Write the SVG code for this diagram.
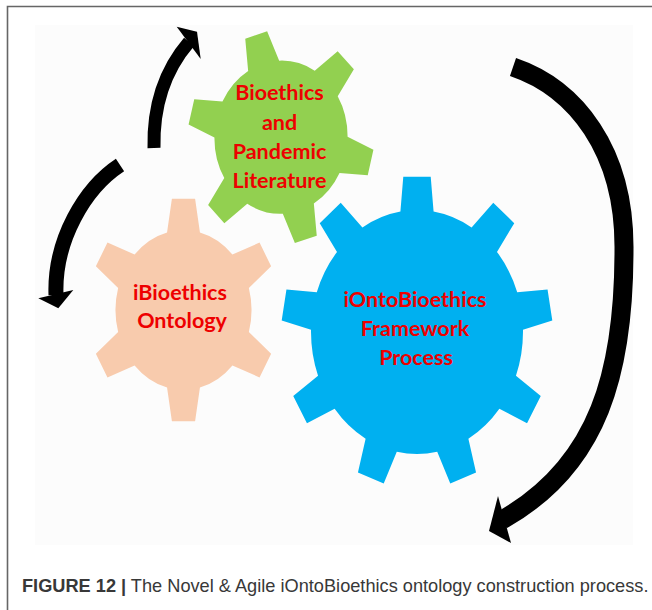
<svg xmlns="http://www.w3.org/2000/svg" xmlns:xlink="http://www.w3.org/1999/xlink" width="652" height="610" viewBox="0 0 652 610">
  <style>
    .frame { stroke:#666; stroke-width:1.6; fill:none; }
    .label { font-family: Lato, "Liberation Sans", sans-serif; font-weight:700; font-size:21.5px; fill:#ee0000; text-anchor:middle; }
    .shaft { fill:none; stroke:#000; stroke-linecap:butt; }
    .head { fill:#000; }
    .caption { font-family: "Liberation Sans", Arial, sans-serif; font-size:18.2px; fill:#383838; }
  </style>
  <defs>
    <path id="gear6" d="M-24.19,-97.03 L-17.06,-138.95 L17.06,-138.95 L24.19,-97.03 A100,100 0 0 1 71.94,-69.47 L111.81,-84.25 L128.87,-54.70 L96.13,-27.56 A100,100 0 0 1 96.13,27.56 L128.87,54.70 L111.81,84.25 L71.94,69.47 A100,100 0 0 1 24.19,97.03 L17.06,138.95 L-17.06,138.95 L-24.19,97.03 A100,100 0 0 1 -71.94,69.47 L-111.81,84.25 L-128.87,54.70 L-96.13,27.56 A100,100 0 0 1 -96.13,-27.56 L-128.87,-54.70 L-111.81,-84.25 L-71.94,-69.47 A100,100 0 0 1 -24.19,-97.03 Z"/>
    <path id="gear9" d="M-15.64,-98.77 L-12.94,-127.35 L12.94,-127.35 L15.64,-98.77 A100,100 0 0 1 51.50,-85.72 L71.95,-105.87 L91.76,-89.24 L75.47,-65.61 A100,100 0 0 1 94.55,-32.56 L123.16,-34.85 L127.65,-9.37 L99.98,-1.75 A100,100 0 0 1 93.36,35.84 L116.75,52.47 L103.82,74.88 L77.71,62.93 A100,100 0 0 1 48.48,87.46 L55.71,115.24 L31.40,124.08 L19.08,98.16 A100,100 0 0 1 -19.08,98.16 L-31.40,124.08 L-55.71,115.24 L-48.48,87.46 A100,100 0 0 1 -77.71,62.93 L-103.82,74.88 L-116.75,52.47 L-93.36,35.84 A100,100 0 0 1 -99.98,-1.75 L-127.65,-9.37 L-123.16,-34.85 L-94.55,-32.56 A100,100 0 0 1 -75.47,-65.61 L-91.76,-89.24 L-71.95,-105.87 L-51.50,-85.72 A100,100 0 0 1 -15.64,-98.77 Z"/>
  </defs>

  <rect x="0" y="0" width="652" height="610" fill="#ffffff"/>
  <rect x="35" y="25" width="598" height="520" fill="#fcfcfc"/>
  <path class="frame" d="M7.5,610 L7.5,6.5 L652,6.5"/>

  <g id="node-ibioethics-ontology">
    <use xlink:href="#gear6" href="#gear6" fill="#f8cbad" transform="translate(183.5,310) scale(0.68,0.8)"/>
    <text class="label" x="180" y="300">iBioethics</text>
    <text class="label" x="182" y="327.5">Ontology</text>
  </g>

  <g id="node-bioethics-literature">
    <use xlink:href="#gear6" href="#gear6" fill="#92d050" transform="matrix(0.6413,-0.2145,0.1786,0.7357,281,137.2)"/>
    <text class="label" x="279.5" y="100">Bioethics</text>
    <text class="label" x="279.5" y="130">and</text>
    <text class="label" x="279.5" y="159">Pandemic</text>
    <text class="label" x="279.5" y="188">Literature</text>
  </g>

  <g id="node-iontobioethics-framework">
    <use xlink:href="#gear9" href="#gear9" fill="#00b0f0" transform="translate(417,332) scale(1.06,1.22)"/>
    <text class="label" x="415" y="306.5">iOntoBioethics</text>
    <text class="label" x="415" y="335.5">Framework</text>
    <text class="label" x="416" y="365">Process</text>
  </g>

  <g id="connectors">
    <path class="shaft" stroke-width="13" d="M154,148 C153,105 165,70 189,42"/>
    <polygon class="head" points="176.7,26.7 197,31.7 200.7,59"/>
    <path class="shaft" stroke-width="15" d="M120,165 C85,188 54,240 56,295"/>
    <polygon class="head" points="38.3,298.3 58.3,308.3 73.3,290"/>
    <path class="shaft" stroke-width="19" d="M513,67 C575,88 625,150 624,250 C624,370 600,465 502,520"/>
    <polygon class="head" points="498,496 489,531 511,543"/>
  </g>

  <text class="caption" x="22" y="592"><tspan font-weight="700">FIGURE 12 |</tspan> The Novel &amp; Agile iOntoBioethics ontology construction process.</text>
</svg>
